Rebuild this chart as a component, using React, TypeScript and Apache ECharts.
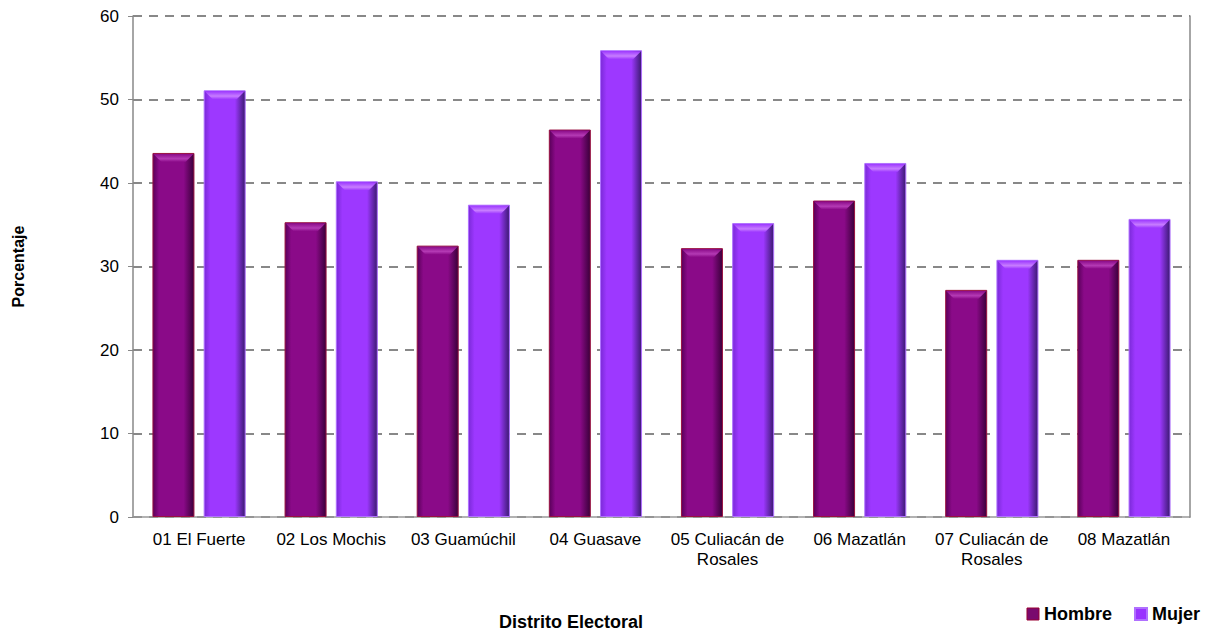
import React, { useEffect, useRef } from "react";
import * as echarts from "echarts";

const categories = [
  "01 El Fuerte",
  "02 Los Mochis",
  "03 Guamúchil",
  "04 Guasave",
  "05 Culiacán de\nRosales",
  "06 Mazatlán",
  "07 Culiacán de\nRosales",
  "08 Mazatlán",
];
const hombre = [43.6, 35.3, 32.5, 46.4, 32.2, 37.9, 27.2, 30.8];
const mujer = [51.1, 40.2, 37.4, 55.9, 35.2, 42.4, 30.8, 35.7];
const yTicks = { min: 0, max: 60, interval: 10 };

const FONT = "Liberation Sans, Arial, sans-serif";
const BAR_W = 42;
const GAP_RATIO = 0.22;

function hGrad(edgeL: string, mid: string, edgeR: string) {
  return new echarts.graphic.LinearGradient(0, 0, 1, 0, [
    { offset: 0, color: edgeL },
    { offset: 0.15, color: mid },
    { offset: 0.75, color: mid },
    { offset: 1, color: edgeR },
  ]);
}

function bevelSeries(name: string, data: number[], side: number, light: string, mid: string) {
  return {
    name,
    type: "custom",
    data: data.map((v, i) => [i, v]),
    z: 5,
    silent: true,
    renderItem: (params: any, api: any) => {
      const top = api.coord([api.value(0), api.value(1)]);
      const offset = side * (BAR_W + BAR_W * GAP_RATIO) / 2;
      const cx = top[0] + offset;
      const x0 = cx - BAR_W / 2 + 1;
      const x1 = cx + BAR_W / 2 - 1;
      const y = top[1] + 1;
      const d = 8;
      return {
        type: "polygon",
        shape: {
          points: [
            [x0, y],
            [x1, y],
            [x1 - d, y + d],
            [x0 + d, y + d],
          ],
        },
        style: {
          fill: new echarts.graphic.LinearGradient(0, 0, 0, 1, [
            { offset: 0, color: mid },
            { offset: 0.6, color: light },
            { offset: 1, color: mid },
          ]),
        },
      };
    },
  };
}

export default function App() {
  const ref = useRef<HTMLDivElement>(null);
  useEffect(() => {
    document.body.style.margin = "0";
    if (!ref.current) return;
    const chart = echarts.init(ref.current, null, { renderer: "svg" });
    chart.setOption({
      animation: false,
      backgroundColor: "#ffffff",
      textStyle: { fontFamily: FONT },
      grid: { left: 133, right: 25, top: 16, bottom: 120, containLabel: false },
      legend: {
        right: 10,
        bottom: 9,
        itemWidth: 12,
        itemHeight: 12,
        itemGap: 22,
        icon: "rect",
        textStyle: { fontFamily: FONT, fontSize: 18, fontWeight: "bold", color: "#000" },
        data: [
          { name: "Hombre", itemStyle: { color: "#7a0a6e", borderColor: "#990033", borderWidth: 1 } },
          { name: "Mujer", itemStyle: { color: "#9933ff" } },
        ],
      },
      graphic: [
        {
          type: "text",
          x: 571,
          y: 622,
          style: {
            text: "Distrito Electoral",
            font: `bold 18px ${FONT}`,
            fill: "#000",
            align: "center",
            verticalAlign: "middle",
          },
        },
      ],
      xAxis: {
        type: "category",
        data: categories,
        axisLine: { show: true, lineStyle: { color: "#999", width: 1.5 } },
        axisTick: { show: false },
        axisLabel: {
          color: "#000",
          fontSize: 17,
          fontFamily: FONT,
          margin: 12,
          interval: 0,
          lineHeight: 20,
        },
      },
      yAxis: [
        {
          type: "value",
          min: yTicks.min,
          max: yTicks.max,
          interval: yTicks.interval,
          name: "Porcentaje",
          nameLocation: "middle",
          nameGap: 107,
          nameRotate: 90,
          nameTextStyle: { fontFamily: FONT, fontSize: 16, fontWeight: "bold", color: "#000" },
          axisLine: { show: true, lineStyle: { color: "#888", width: 1.5 } },
          axisTick: { show: true, length: 5, lineStyle: { color: "#888" } },
          axisLabel: { color: "#000", fontSize: 17, fontFamily: FONT, margin: 14 },
          splitLine: {
            show: true,
            lineStyle: { color: "#888", width: 2, type: [9, 7] },
          },
        },
        {
          type: "value",
          min: yTicks.min,
          max: yTicks.max,
          interval: yTicks.interval,
          position: "right",
          axisLine: { show: true, lineStyle: { color: "#888", width: 1.5 } },
          axisTick: { show: false },
          axisLabel: { show: false },
          splitLine: { show: false },
        },
      ],
      series: [
        {
          name: "Hombre",
          type: "bar",
          data: hombre,
          barWidth: BAR_W,
          barGap: `${GAP_RATIO * 100}%`,
          itemStyle: {
            color: hGrad("#5a005a", "#8a0a88", "#3a003a"),
            borderColor: "#9a1040",
            borderWidth: 1,
          },
        },
        {
          name: "Mujer",
          type: "bar",
          data: mujer,
          barWidth: BAR_W,
          itemStyle: {
            color: hGrad("#7a2ad8", "#9d38ff", "#3b1a70"),
            borderColor: "#b070ff",
            borderWidth: 1,
          },
        },
        bevelSeries("HombreTop", hombre, -1, "#b43ab4", "#8a0a88"),
        bevelSeries("MujerTop", mujer, 1, "#c77dff", "#9d38ff"),
      ],
    });
    return () => chart.dispose();
  }, []);
  return <div ref={ref} style={{ width: 1215, height: 637 }} />;
}
